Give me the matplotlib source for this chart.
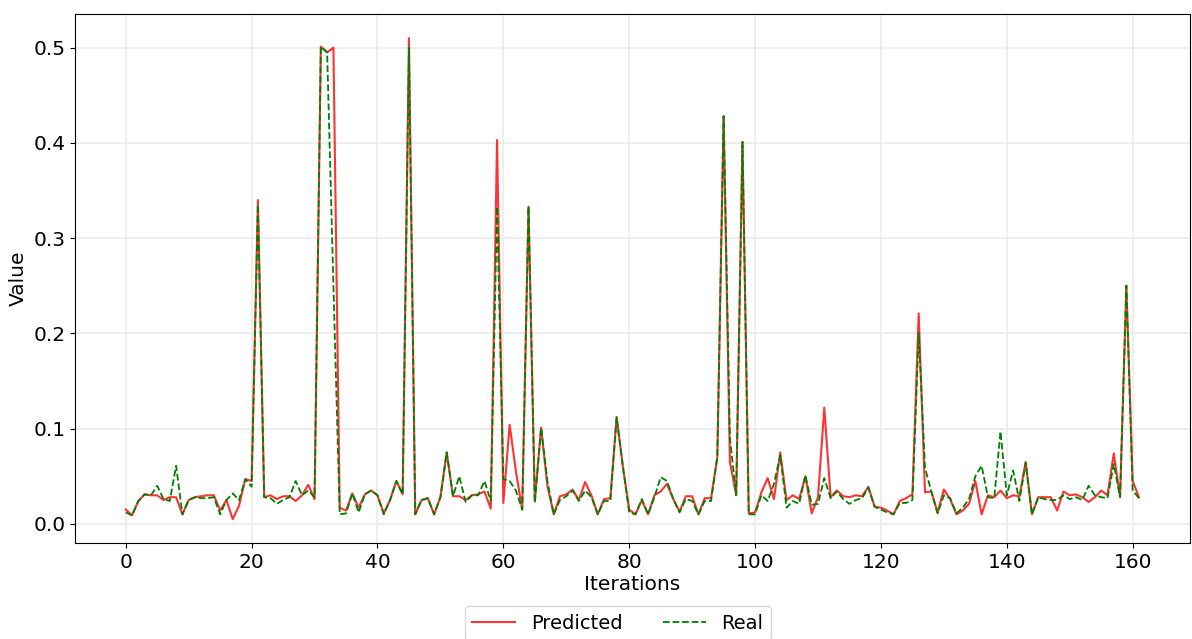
import numpy as np
import matplotlib.pyplot as plt

# predicted vs real values per iteration
predicted = [
    0.015, 0.009, 0.024, 0.031, 0.030, 0.030, 0.025, 0.028, 0.028, 0.010,
    0.025, 0.028, 0.029, 0.030, 0.030, 0.014, 0.025, 0.005, 0.019, 0.047,
    0.045, 0.340, 0.028, 0.030, 0.026, 0.029, 0.029, 0.024, 0.030, 0.041,
    0.026, 0.501, 0.495, 0.500, 0.017, 0.014, 0.032, 0.017, 0.031, 0.035,
    0.030, 0.011, 0.025, 0.045, 0.031, 0.510, 0.010, 0.025, 0.027, 0.010,
    0.028, 0.075, 0.029, 0.029, 0.025, 0.030, 0.031, 0.034, 0.016, 0.403,
    0.022, 0.104, 0.055, 0.015, 0.333, 0.024, 0.101, 0.040, 0.010, 0.029,
    0.031, 0.036, 0.025, 0.044, 0.030, 0.010, 0.026, 0.027, 0.112, 0.060,
    0.015, 0.010, 0.025, 0.010, 0.030, 0.034, 0.042, 0.026, 0.013, 0.029,
    0.029, 0.010, 0.027, 0.027, 0.070, 0.428, 0.065, 0.030, 0.401, 0.011,
    0.012, 0.033, 0.048, 0.026, 0.075, 0.025, 0.030, 0.026, 0.050, 0.011,
    0.028, 0.122, 0.028, 0.035, 0.029, 0.028, 0.030, 0.029, 0.039, 0.018,
    0.017, 0.014, 0.010, 0.024, 0.027, 0.031, 0.221, 0.033, 0.034, 0.012,
    0.036, 0.026, 0.010, 0.014, 0.021, 0.045, 0.010, 0.030, 0.028, 0.035,
    0.027, 0.030, 0.029, 0.065, 0.010, 0.028, 0.028, 0.028, 0.014, 0.034,
    0.030, 0.031, 0.028, 0.023, 0.028, 0.035, 0.030, 0.074, 0.028, 0.250,
    0.045, 0.028,
]
real = [
    0.012, 0.009, 0.024, 0.031, 0.030, 0.040, 0.026, 0.024, 0.061, 0.010,
    0.025, 0.028, 0.027, 0.027, 0.028, 0.010, 0.025, 0.032, 0.025, 0.047,
    0.039, 0.335, 0.028, 0.027, 0.021, 0.025, 0.028, 0.045, 0.030, 0.035,
    0.028, 0.501, 0.495, 0.250, 0.010, 0.011, 0.032, 0.012, 0.031, 0.035,
    0.030, 0.010, 0.025, 0.045, 0.031, 0.500, 0.010, 0.025, 0.027, 0.010,
    0.028, 0.075, 0.029, 0.050, 0.023, 0.030, 0.030, 0.045, 0.024, 0.333,
    0.047, 0.045, 0.035, 0.015, 0.333, 0.022, 0.101, 0.045, 0.010, 0.025,
    0.029, 0.035, 0.024, 0.035, 0.028, 0.010, 0.024, 0.024, 0.112, 0.060,
    0.012, 0.010, 0.026, 0.010, 0.028, 0.049, 0.045, 0.026, 0.012, 0.026,
    0.024, 0.010, 0.024, 0.024, 0.070, 0.428, 0.090, 0.030, 0.401, 0.010,
    0.010, 0.030, 0.024, 0.042, 0.072, 0.017, 0.024, 0.021, 0.051, 0.020,
    0.021, 0.048, 0.027, 0.034, 0.026, 0.021, 0.025, 0.027, 0.038, 0.018,
    0.015, 0.012, 0.010, 0.022, 0.022, 0.025, 0.200, 0.059, 0.034, 0.011,
    0.030, 0.027, 0.011, 0.017, 0.026, 0.050, 0.061, 0.028, 0.027, 0.097,
    0.030, 0.056, 0.024, 0.064, 0.010, 0.028, 0.026, 0.025, 0.025, 0.030,
    0.026, 0.028, 0.025, 0.040, 0.030, 0.028, 0.027, 0.063, 0.028, 0.250,
    0.035, 0.027,
]
iterations = np.arange(len(predicted))

fig, ax = plt.subplots(figsize=(11.92, 6.39), dpi=100)
ax.plot(iterations, predicted, color="red", alpha=0.8, linewidth=1.5, label="Predicted")
ax.plot(iterations, real, "g--", linewidth=1.3, label="Real")

ax.grid(True, color="#ebebeb", linewidth=1.2)
ax.set_xlabel("Iterations", fontsize=14.5, labelpad=2)
ax.set_ylabel("Value", fontsize=14.5)
ax.tick_params(labelsize=14.5)
ax.legend(loc="upper center", bbox_to_anchor=(0.487, -0.1), ncol=2, fontsize=14,
          handlelength=2.2, columnspacing=2.1)

plt.subplots_adjust(left=0.063, right=0.998, top=0.978, bottom=0.15)
plt.savefig("out.png")
